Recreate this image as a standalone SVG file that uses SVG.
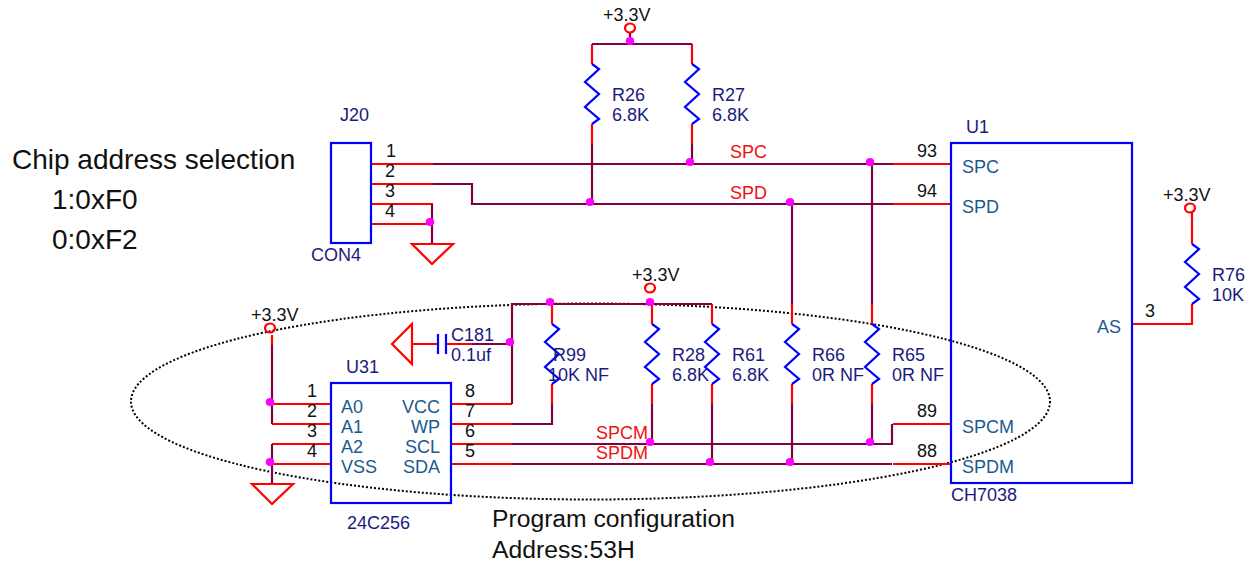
<svg xmlns="http://www.w3.org/2000/svg" width="1254" height="561" viewBox="0 0 1254 561">
<style>
text{font-family:"Liberation Sans",Arial,sans-serif;font-size:18px}
.n{fill:#1a1a80}.p{fill:#1a5a90}.k{fill:#111}.r{fill:#f01010}.b{font-size:28px;fill:#111}.e{text-anchor:end}.m{font-size:24.7px}
.w,.o,.g,.z,.c,.box{fill:none;stroke-width:2.2}
.w{stroke:#800040}.o,.g{stroke:#ff0000}.z,.box,.c{stroke:#0000ff}.z{stroke-linejoin:miter}
.d{fill:#ff00ff}
</style>
<defs>
<path id="res" class="z" d="M0 0l7 5-14 13 14 12-14 13 14 12-7 5"/>
<ellipse id="vcc" class="o" rx="5" ry="4.5"/>
<ellipse id="dot" class="d" rx="4.2" ry="4"/>
</defs>
<ellipse cx="590.5" cy="401.5" rx="459.5" ry="98" fill="none" stroke="#000" stroke-width="2" stroke-dasharray="2 2"/>
<g id="connectors">
<path class="o" d="M371 164H433M371 184H433M371 204H433M371 224H433M893 164H951M893 204H951M893 424H951M893 464H951M451 404H512M451 424H512M451 444H512M451 464H512M272 404H331M272 424H331M272 444H331M272 464H331M592 44V64M692 44V64M592 124V144M692 124V144M552 304V324M652 304V324M712 304V324M792 304V324M872 304V324M552 384V404M652 384V404M712 384V404M792 384V404M872 384V404M272 335V345M1192 213V244M1192 304V324H1132M412 344H438M446 344H472"/>
<path class="w" d="M433 164H893M433 184H472V204H893M432 204V244M592 44H692M630 33V44M592 144V204M692 144V164M512 404V304H712M472 344H512M552 404V424H512M512 444H892V424M512 464H892M652 404V444M712 404V464M792 204V304M792 404V464M872 164V304M872 404V444M272 345V424M272 444V484"/>
</g>
<g id="J20"><rect class="box" x="331" y="143" width="40" height="100"/><text class="n" x="340" y="121">J20</text><text class="n" x="311" y="261">CON4</text><text class="k" x="386" y="157">1</text><text class="k" x="385" y="177">2</text><text class="k" x="385" y="197">3</text><text class="k" x="385" y="217">4</text></g>
<g id="U1"><rect class="box" x="951" y="143" width="181" height="340"/><text class="n" x="966" y="133">U1</text><text class="n" x="951" y="501">CH7038</text>
<text class="p" x="962" y="173">SPC</text><text class="p" x="962" y="213">SPD</text><text class="p" x="962" y="433">SPCM</text><text class="p" x="962" y="473">SPDM</text><text class="p" x="1097" y="333">AS</text>
<text class="k" x="917" y="157">93</text><text class="k" x="917" y="197">94</text><text class="k" x="917" y="417">89</text><text class="k" x="917" y="457">88</text><text class="k" x="1145" y="317">3</text></g>
<g id="U31"><rect class="box" x="331" y="383" width="120" height="120"/><text class="n" x="346" y="373">U31</text><text class="n" x="347" y="529">24C256</text>
<text class="p" x="341" y="413">A0</text><text class="p" x="341" y="433">A1</text><text class="p" x="341" y="453">A2</text><text class="p" x="341" y="473">VSS</text>
<text class="p e" x="440" y="413">VCC</text><text class="p e" x="440" y="433">WP</text><text class="p e" x="440" y="453">SCL</text><text class="p e" x="440" y="473">SDA</text>
<text class="k" x="307" y="397">1</text><text class="k" x="307" y="417">2</text><text class="k" x="307" y="437">3</text><text class="k" x="307" y="457">4</text>
<text class="k" x="465" y="397">8</text><text class="k" x="465" y="417">7</text><text class="k" x="465" y="437">6</text><text class="k" x="465" y="457">5</text></g>
<g id="R26"><use href="#res" x="592" y="64"/><text class="n" x="612" y="101">R26</text><text class="n" x="612" y="121">6.8K</text></g>
<g id="R27"><use href="#res" x="692" y="64"/><text class="n" x="712" y="101">R27</text><text class="n" x="712" y="121">6.8K</text></g>
<g id="R99"><use href="#res" x="552" y="324"/><text class="n" x="553" y="361">R99</text><text class="n" x="548" y="381">10K NF</text></g>
<g id="R28"><use href="#res" x="652" y="324"/><text class="n" x="672" y="361">R28</text><text class="n" x="672" y="381">6.8K</text></g>
<g id="R61"><use href="#res" x="712" y="324"/><text class="n" x="732" y="361">R61</text><text class="n" x="732" y="381">6.8K</text></g>
<g id="R66"><use href="#res" x="792" y="324"/><text class="n" x="812" y="361">R66</text><text class="n" x="812" y="381">0R NF</text></g>
<g id="R65"><use href="#res" x="872" y="324"/><text class="n" x="892" y="361">R65</text><text class="n" x="892" y="381">0R NF</text></g>
<g id="R76"><use href="#res" x="1192" y="244"/><text class="n" x="1212" y="281">R76</text><text class="n" x="1212" y="301">10K</text></g>
<g id="C181"><path class="c" d="M438 334V354M446 334V354"/><text class="n" x="451" y="341">C181</text><text class="n" x="451" y="361">0.1uf</text></g>
<g id="GND1"><path class="g" d="M412 244H453L432 264Z"/></g>
<g id="GND2"><path class="g" d="M252 484H293L272 504Z"/></g>
<g id="GND3"><path class="g" d="M412 324V364L392 344Z"/></g>
<g id="VCC1"><use href="#vcc" x="630" y="28"/><text class="k" x="603" y="21">+3.3V</text></g>
<g id="VCC2"><use href="#vcc" x="650" y="288"/><text class="k" x="632" y="281">+3.3V</text></g>
<g id="VCC3"><use href="#vcc" x="270" y="328"/><text class="k" x="251" y="321">+3.3V</text></g>
<g id="VCC4"><use href="#vcc" x="1190" y="208"/><text class="k" x="1163" y="201">+3.3V</text></g>
<g id="junctions">
<use href="#dot" x="630" y="41"/><use href="#dot" x="590" y="202"/><use href="#dot" x="690" y="162"/><use href="#dot" x="870" y="162"/><use href="#dot" x="790" y="202"/><use href="#dot" x="430" y="222"/><use href="#dot" x="550" y="302"/><use href="#dot" x="650" y="302"/><use href="#dot" x="510" y="342"/><use href="#dot" x="270" y="402"/><use href="#dot" x="270" y="462"/><use href="#dot" x="650" y="442"/><use href="#dot" x="870" y="442"/><use href="#dot" x="710" y="462"/><use href="#dot" x="790" y="462"/>
</g>
<g id="labels">
<text class="r" x="730" y="158">SPC</text><text class="r" x="730" y="199">SPD</text><text class="r" x="596" y="439">SPCM</text><text class="r" x="596" y="459">SPDM</text>
<text class="b" x="12" y="169">Chip address selection</text><text class="b" x="52" y="209">1:0xF0</text><text class="b" x="52" y="249">0:0xF2</text>
<text class="b m" x="492" y="527">Program configuration</text><text class="b m" x="492" y="558">Address:53H</text>
</g>
</svg>
